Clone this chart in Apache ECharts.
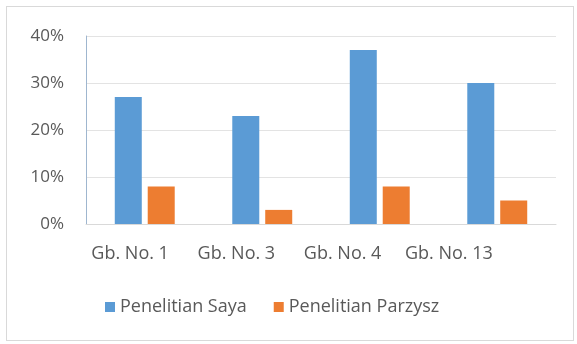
<!DOCTYPE html>
<html>
<head>
<meta charset="utf-8">
<script src="https://cdn.jsdelivr.net/npm/echarts@6/dist/echarts.min.js"></script>
<style>
    html, body { margin: 0; padding: 0; background: #ffffff; }
    .box {
        position: absolute;
        left: 6px; top: 6px;
        width: 568px; height: 335px;
        border: 1px solid #d9d9d9;
        box-sizing: border-box;
    }
    #chart { position: absolute; left: 0; top: 0; width: 577px; height: 344px; }
</style>
</head>
<body>
<div class="box"></div>
<div id="chart"></div>
<script>
    // data
    var categories = ['Gb. No. 1', 'Gb. No. 3', 'Gb. No. 4', 'Gb. No. 13'];
    var seriesNames = ['Penelitian Saya', 'Penelitian Parzysz'];
    var sayaValues = [27, 23, 37, 30];
    var parzyszValues = [8, 3, 8, 5];
    var yTicks = [0, 10, 20, 30, 40];

    var font = '"Open Sans", "Liberation Sans", sans-serif';
    var textColor = '#595959';

    var myChart = echarts.init(document.getElementById('chart'));
    myChart.setOption({
        animation: false,
        color: ['#5b9bd5', '#ed7d31'],
        grid: [
            { left: 86, right: 21, top: 36, bottom: 120 },
            // label row: in the picture the category names sit a bit closer together than the bars
            { left: 77, right: 75, top: 36, bottom: 120 }
        ],
        legend: {
            data: seriesNames,
            top: 293,
            left: 100,
            itemWidth: 10,
            itemHeight: 10,
            itemGap: 27,
            icon: 'rect',
            textStyle: { color: textColor, fontSize: 18, fontFamily: font }
        },
        xAxis: [
            {
                type: 'category',
                gridIndex: 0,
                data: categories,
                axisLine: { lineStyle: { color: '#d9d9d9' } },
                axisTick: { show: false },
                axisLabel: { show: false }
            },
            {
                type: 'category',
                gridIndex: 1,
                data: categories,
                axisLine: { show: false },
                axisTick: { show: false },
                axisLabel: { interval: 0, color: textColor, fontSize: 18, fontFamily: font, margin: 21 }
            }
        ],
        yAxis: [
            {
                type: 'value',
                gridIndex: 0,
                min: yTicks[0],
                max: yTicks[yTicks.length - 1],
                interval: 10,
                axisLine: { show: true, lineStyle: { color: '#9fb6cf' } },
                axisTick: { show: false },
                axisLabel: {
                    color: textColor,
                    fontSize: 17,
                    fontFamily: font,
                    margin: 22,
                    formatter: '{value}%'
                },
                splitLine: { lineStyle: { color: '#e3e3e3' } }
            },
            {
                type: 'value',
                gridIndex: 1,
                min: yTicks[0],
                max: yTicks[yTicks.length - 1],
                show: false
            }
        ],
        series: [
            {
                name: seriesNames[0],
                type: 'bar',
                data: sayaValues,
                barWidth: 27,
                barGap: '22%'
            },
            {
                name: seriesNames[1],
                type: 'bar',
                data: parzyszValues,
                barWidth: 27,
                barGap: '22%'
            }
        ]
    });
</script>
</body>
</html>
